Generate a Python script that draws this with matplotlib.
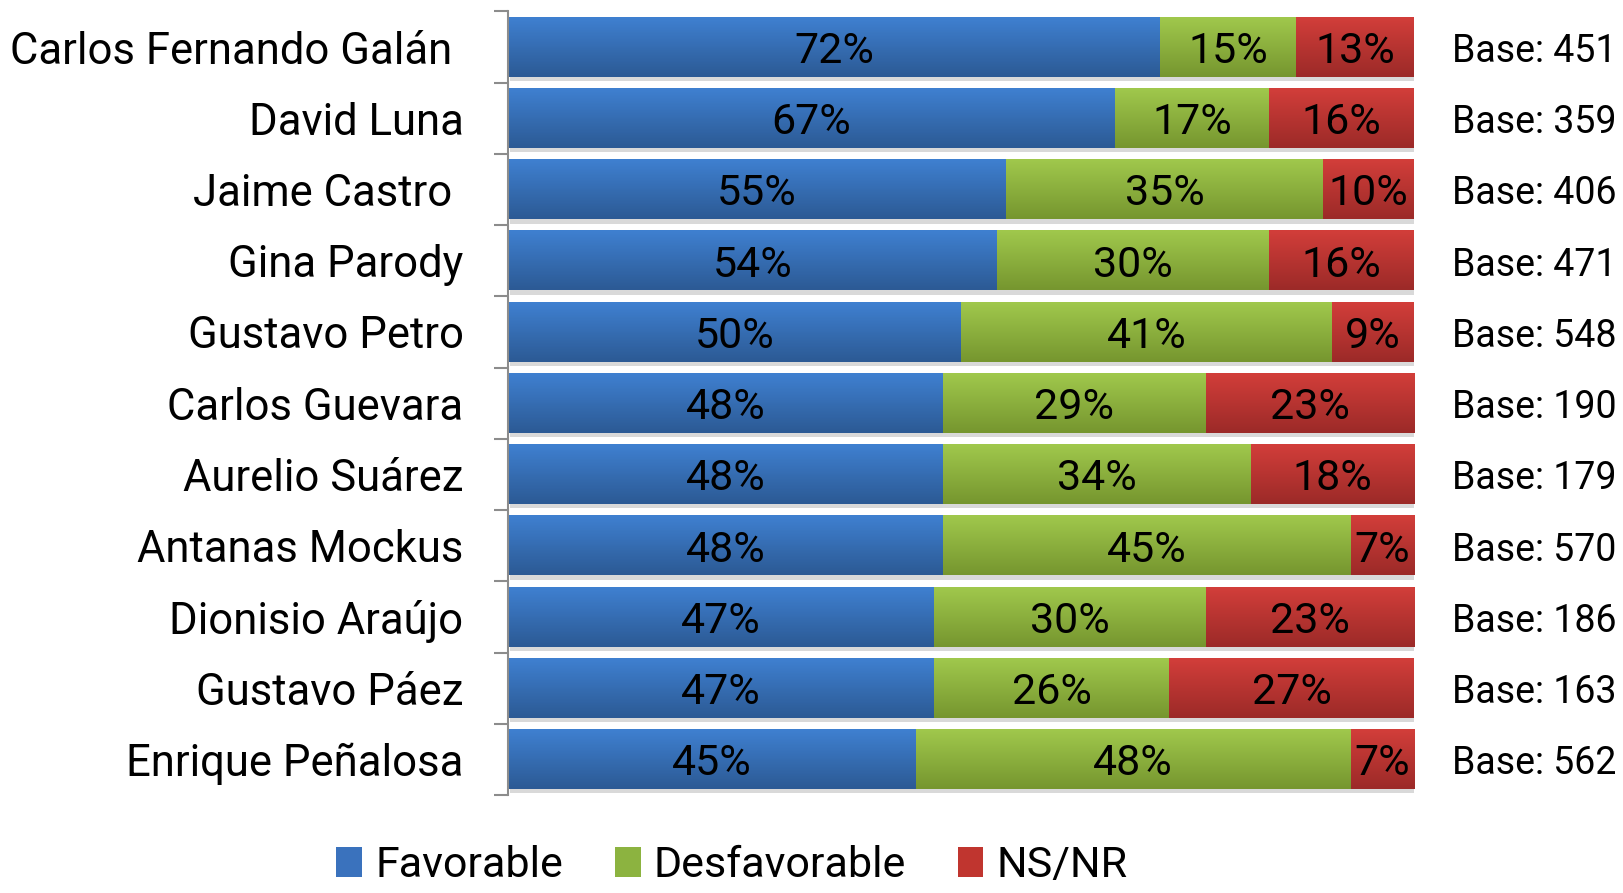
import numpy as np
import matplotlib
matplotlib.use("Agg")
import matplotlib.pyplot as plt
from matplotlib.colors import LinearSegmentedColormap
from matplotlib.patches import Patch

# 数据
names = ["Carlos Fernando Galán ", "David Luna", "Jaime Castro ", "Gina Parody",
         "Gustavo Petro", "Carlos Guevara", "Aurelio Suárez", "Antanas Mockus",
         "Dionisio Araújo", "Gustavo Páez", "Enrique Peñalosa"]
favorable = [72, 67, 55, 54, 50, 48, 48, 48, 47, 47, 45]
desfavorable = [15, 17, 35, 30, 41, 29, 34, 45, 30, 26, 48]
nsnr = [13, 16, 10, 16, 9, 23, 18, 7, 23, 27, 7]
bases = [451, 359, 406, 471, 548, 190, 179, 570, 186, 163, 562]
series_names = ["Favorable", "Desfavorable", "NS/NR"]

# 颜色 (上浅下深)
colors_top = ["#3f80d0", "#a0c84c", "#d23e3a"]
colors_bot = ["#2c5a95", "#76962f", "#9c2a28"]
colors_mid = ["#3a72bd", "#8cb340", "#c0352f"]

plt.rcParams["font.family"] = ["Roboto", "DejaVu Sans"]
fs_name = 31.4
fs_pct = 31
fs_base = 27

W, H = 1623, 893
fig = plt.figure(figsize=(W / 100, H / 100), dpi=100)
ax = fig.add_axes([508 / W, 1 - 795 / H, (1414 - 508) / W, (795 - 11.4) / H])

n = len(names)
y = np.arange(n)
bar_h = 0.835
data = [favorable, desfavorable, nsnr]

left = np.zeros(n)
for k, vals in enumerate(data):
    vals = np.array(vals, dtype=float)
    cmap = LinearSegmentedColormap.from_list("g%d" % k, [colors_top[k], colors_bot[k]])
    grad = np.linspace(0, 1, 64).reshape(-1, 1)
    for i in range(n):
        # 阴影
        ax.barh(y[i] + 0.06, vals[i], left=left[i] + 0.25, height=bar_h,
                color="#d9d9d9", zorder=1, linewidth=0)
    for i in range(n):
        ax.imshow(grad, cmap=cmap, aspect="auto", origin="upper", zorder=2,
                  extent=(left[i], left[i] + vals[i], y[i] + bar_h / 2, y[i] - bar_h / 2))
        ax.annotate(f"{int(vals[i])}%", xy=(left[i] + vals[i] / 2, y[i]),
                    xytext=(0, -16), textcoords="offset pixels", ha="center", va="baseline",
                    fontsize=fs_pct, color="black", zorder=3)
    left += vals

ax.set_xlim(0, 100)
ax.set_ylim(n - 0.5, -0.5)

# 坐标轴
for s in ["top", "right", "bottom"]:
    ax.spines[s].set_visible(False)
ax.spines["left"].set_color("#8c8c8c")
ax.spines["left"].set_linewidth(1.5)
ax.set_xticks([])
ax.set_yticks(y)
ax.set_yticklabels(names, fontsize=fs_name)
ax.tick_params(axis="y", which="major", length=0, pad=32)
ax.set_yticks(np.arange(-0.5, n, 1), minor=True)
ax.tick_params(axis="y", which="minor", length=10, width=1.5, color="#8c8c8c")

# Base
for i in range(n):
    ax.annotate(f"Base: {bases[i]}", xy=(1, y[i]), xycoords=("axes fraction", "data"),
                xytext=(38, -15), textcoords="offset pixels", ha="left", va="baseline",
                fontsize=fs_base, annotation_clip=False)

# 图例
handles = [Patch(facecolor=c, edgecolor="none") for c in colors_mid]
fig.legend(handles, series_names, loc="lower center", bbox_to_anchor=(0.451, -0.036),
           ncol=3, frameon=False, fontsize=31, handlelength=0.6, handleheight=0.7,
           handletextpad=0.3, columnspacing=1.2)

fig.savefig("out.png", dpi=100)
